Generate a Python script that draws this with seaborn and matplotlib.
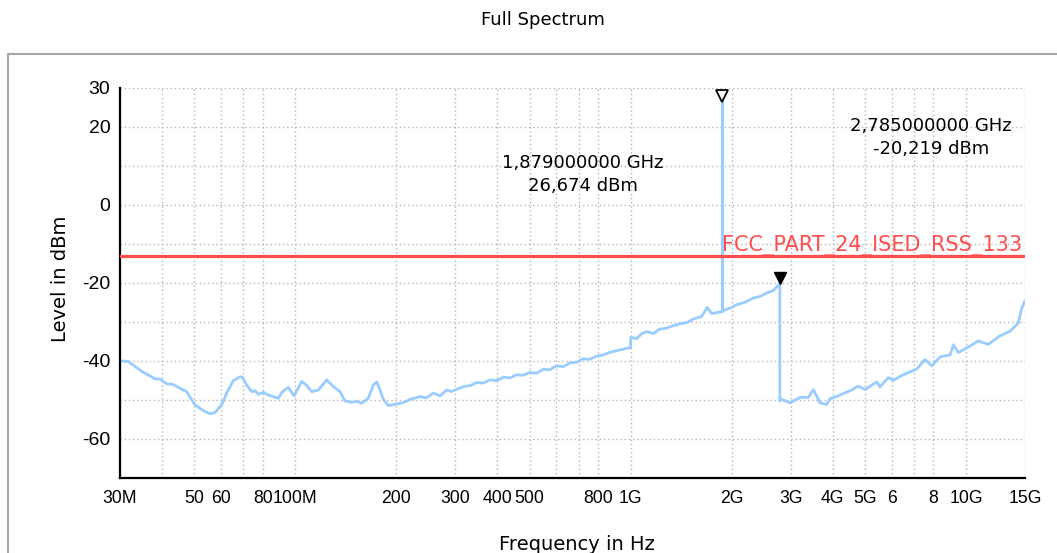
import matplotlib
matplotlib.use("Agg")
import matplotlib.pyplot as plt
import matplotlib.transforms as mtransforms
from matplotlib.patches import Rectangle
from matplotlib.ticker import FixedLocator, FixedFormatter, NullLocator
import seaborn as sns
import pandas as pd


# Trace (frequency in MHz, level in dBm)
freq_mhz = [
    30, 31.8, 34.8, 38.1, 39.5, 41.3, 43.3, 45.8, 47.4, 50.2,
    53.2, 55.7, 57.6, 60.3, 62.4, 65.3, 68.4, 69.5, 71.6, 74.1,
    75.8, 77.6, 80.3, 83.1, 86.0, 89.0, 91.1, 95.3, 99.1, 104.5,
    108.1, 111.9, 117.1, 124.1, 129.8, 135.9, 140.7, 147.3, 152, 157.8,
    165.1, 170.9, 174.9, 178.9, 183.0, 189.4, 200.6, 212.4, 219.8, 235.4,
    246, 258.0, 270.1, 282.8, 292, 303, 318, 331.8, 347, 363.6,
    380, 398.7, 418, 436.8, 456, 478.5, 500, 524.7, 548, 574.8,
    600, 629.7, 660, 690.6, 720, 756.6, 790, 828.9, 868, 909,
    955, 999, 1001, 1042.5, 1080, 1117, 1169, 1220, 1281, 1340,
    1404, 1470, 1538, 1629, 1693, 1745, 1810, 1878, 1879, 1880,
    1912, 1990, 2072, 2190, 2322, 2430, 2546, 2660, 2785, 2786,
    2822, 2988, 3201, 3387, 3507, 3672, 3845, 3933, 4110, 4308,
    4540, 4776, 5001, 5418, 5544, 5868, 6075, 6360, 6660, 7134,
    7551, 7905, 8370, 8967, 9174, 9492, 10284, 10887, 11658, 12633,
    13533, 14328, 14667, 15000,
]
level_dbm = [
    -40.0, -40.2, -42.7, -44.6, -44.7, -45.9, -46.1, -47.3, -47.9, -51.3,
    -52.8, -53.6, -53.3, -51.3, -48.3, -45.1, -44.1, -44.2, -46.2, -47.9,
    -47.7, -48.6, -48.1, -48.8, -49.2, -49.6, -48.1, -46.8, -49.0, -45.3,
    -46.3, -47.9, -47.5, -44.9, -46.6, -47.9, -50.3, -50.7, -50.4, -50.9,
    -49.6, -46.2, -45.4, -47.5, -49.9, -51.5, -51.1, -50.6, -49.9, -49.2,
    -49.5, -48.3, -49.0, -47.5, -47.9, -47.3, -46.6, -46.4, -45.6, -45.7,
    -44.9, -45.1, -44.2, -44.4, -43.6, -43.7, -43.0, -43.2, -42.2, -42.3,
    -41.3, -41.5, -40.5, -40.4, -39.5, -39.6, -38.8, -38.5, -37.8, -37.4,
    -37.0, -36.6, -34.0, -34.3, -33.0, -32.5, -33.0, -31.9, -31.6, -31.0,
    -30.5, -30.2, -29.3, -28.6, -26.3, -27.9, -27.6, -27.4, 26.674, -27.3,
    -26.9, -26.4, -25.6, -25.0, -23.9, -23.5, -22.6, -22.0, -20.219, -50.3,
    -49.9, -50.8, -49.4, -49.4, -47.4, -50.8, -51.2, -49.7, -49.2, -48.4,
    -47.6, -46.5, -47.4, -45.4, -46.7, -44.3, -45.0, -44.0, -43.2, -42.1,
    -39.7, -41.3, -39.0, -38.5, -35.9, -37.9, -36.2, -34.9, -35.8, -33.6,
    -32.4, -30.3, -26.5, -24.6,
]

limit_dbm = -13
limit_name = "FCC_PART_24_ISED_RSS_133"

marker_freq_mhz = [1879.0, 2785.0]
marker_level_dbm = [26.674, -20.219]
marker_labels = ["1,879000000 GHz\n26,674 dBm", "2,785000000 GHz\n-20,219 dBm"]

x_ticks_mhz = [30, 40, 50, 60, 70, 80, 100, 200, 300, 400, 500, 600, 700, 800,
               1000, 2000, 3000, 4000, 5000, 6000, 7000, 8000, 10000, 15000]
x_tick_labels = ["30M", "", "50", "60", "", "80", "100M", "200", "300", "400",
                 "500", "", "", "800", "1G", "2G", "3G", "4G", "5G", "6", "",
                 "8", "10G", "15G"]
y_ticks = [-70, -60, -50, -40, -30, -20, -10, 0, 10, 20, 30]
y_tick_labels = ["", "-60", "", "-40", "", "-20", "", "0", "", "20", "30"]

df = pd.DataFrame({"freq": freq_mhz, "level": level_dbm})

sns.set_style("white")
plt.rcParams["font.family"] = ["DejaVu Sans"]
plt.rcParams["text.color"] = "black"

W, H = 1057, 553
fig = plt.figure(figsize=(W / 100, H / 100), dpi=100)
ax = fig.add_axes([120 / W, 1 - 477.7 / H, 905 / W, 389.7 / H])

# outer grey frame (runs off the right/bottom edge like the source screenshot)
fig.add_artist(Rectangle((8 / W, -0.1), 1.2, 1 - 54 / H + 0.1,
                         transform=fig.transFigure, fill=False,
                         edgecolor="#a8a8a8", lw=1.5))

sns.lineplot(data=df, x="freq", y="level", ax=ax, color="#99ccff", lw=2,
             estimator=None, sort=False)

ax.axhline(limit_dbm, color="#ff4d4d", lw=2.3, zorder=3)
ax.text(0.665, limit_dbm, limit_name, transform=ax.get_yaxis_transform(),
        ha="left", va="bottom", color="#ff4d4d", fontsize=15, clip_on=False)

# markers sit just above their points
mk_trans = mtransforms.offset_copy(ax.transData, fig=fig, x=0, y=3.8, units="points")
ax.plot(marker_freq_mhz[0], marker_level_dbm[0], marker="v", ms=8,
        mfc="white", mec="black", mew=1.3, transform=mk_trans, zorder=5)
ax.plot(marker_freq_mhz[1], marker_level_dbm[1], marker="v", ms=9,
        mfc="black", mec="black", transform=mk_trans, zorder=5)

ax.text(0.5116, 0.777, marker_labels[0], transform=ax.transAxes, ha="center",
        va="center", fontsize=13, linespacing=1.35, color="black")
ax.text(0.896, 0.872, marker_labels[1], transform=ax.transAxes, ha="center",
        va="center", fontsize=13, linespacing=1.35, color="black")

ax.set_xscale("log")
ax.set_xlim(30, 15000)
ax.set_ylim(-70, 30)
ax.xaxis.set_major_locator(FixedLocator(x_ticks_mhz))
ax.xaxis.set_major_formatter(FixedFormatter(x_tick_labels))
ax.xaxis.set_minor_locator(NullLocator())
ax.set_yticks(y_ticks)
ax.set_yticklabels(y_tick_labels)
ax.set_xlabel("")
ax.set_ylabel("")

ax.grid(True, color="#b4b4b4", linestyle=(0, (1, 2)), lw=1)
ax.set_axisbelow(True)
for side in ["top", "right"]:
    ax.spines[side].set_visible(False)
for side in ["left", "bottom"]:
    ax.spines[side].set_color("black")
    ax.spines[side].set_linewidth(1.6)
ax.tick_params(axis="both", direction="inout", length=10, width=1.6,
               color="black", labelsize=13, labelcolor="black")
ax.tick_params(axis="x", pad=4)
ax.tick_params(axis="y", pad=2)
for lbl in ax.get_xticklabels():
    lbl.set_fontfamily("Liberation Sans")
    lbl.set_fontsize(12.7)
for lbl in ax.get_yticklabels():
    lbl.set_fontfamily("Liberation Sans")
    lbl.set_fontsize(14)

fig.text(543 / W, 1 - 20 / H, "Full Spectrum", ha="center", va="center",
         fontsize=13, color="black")
fig.text(60 / W, 1 - 279 / H, "Level in dBm", rotation=90, ha="center",
         va="center", fontsize=14, color="black")
fig.text(577 / W, 1 - 545 / H, "Frequency in Hz", ha="center", va="center",
         fontsize=14, color="black")

fig.savefig("out.png", dpi=100)
